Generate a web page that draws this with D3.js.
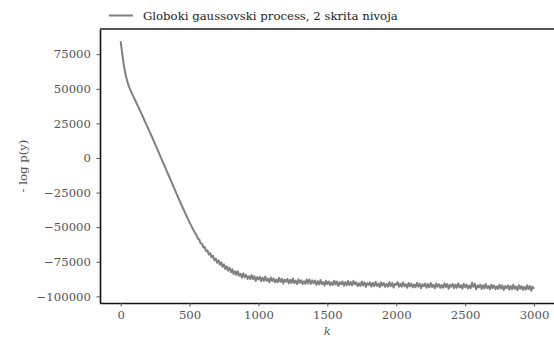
<!DOCTYPE html>
<html>
<head>
<meta charset="utf-8">
<script src="https://cdn.jsdelivr.net/npm/d3@7"></script>
<style>
  body { margin: 0; background: #fff; }
  svg { display: block; }
</style>
</head>
<body>
<svg id="chart" width="554" height="338"></svg>
<script>
// legend / labels
const seriesName = "Globoki gaussovski process, 2 skrita nivoja";
const yLabel = "- log p(y)";
const xLabel = "k";

const xTicks = [0, 500, 1000, 1500, 2000, 2500, 3000];
const yTicks = [-100000, -75000, -50000, -25000, 0, 25000, 50000, 75000];

// one value every kStep iterations
const kStep = 10;
const negLogP = [
  84500, 76500, 69000, 63000, 58500, 54800, 51700, 49200, 47000, 44900,
  42800, 40700, 38600, 36500, 34400, 32200, 30000, 27800, 25600, 23400,
  21200, 19000, 16800, 14600, 12300, 10000, 7700, 5400, 3100, 800,
  -1500, -3800, -6100, -8400, -10700, -13000, -15300, -17600, -19900, -22200,
  -24500, -26800, -29100, -31400, -33600, -35800, -38000, -40200, -42300, -44400,
  -46500, -48500, -50500, -52400, -54300,
  -55700, -58300, -58800, -61700, -61900, -64700, -64400, -67300, -66800, -69800,
  -68800, -71800, -70700, -73900, -72700, -75700, -74000, -77200, -75400, -78700,
  -76900, -80300, -78300, -81400, -79200, -82600,
  -80380, -83960, -81740, -84520, -81800, -85120, -83740, -86560, -83380, -86100,
  -84420, -87340, -85460, -87580, -84600, -87540, -85380, -88820, -86160, -87700,
  -85890, -89080, -86470, -88860, -85750, -88840, -87230, -89820, -86410, -88900,
  -87070, -89840, -87810, -89780, -86650, -89520, -87290, -90660, -87930, -89400,
  -87460, -90620, -87980, -90340, -87200, -90260, -88620, -91180, -87740, -90200,
  -88350, -91100, -89050, -91000, -87850, -90700, -87850, -91000, -88450, -90500,
  -88540, -91680, -89020, -91360, -88200, -91240, -89580, -92120, -88660, -91100,
  -89230, -91960, -89900, -91830, -88660, -91490, -89220, -92560, -89790, -91220,
  -89250, -92380, -89720, -92050, -88880, -91910, -89640, -91980, -88710, -91340,
  -89870, -92600, -90540, -92470, -89300, -92120, -89850, -93170, -90400, -91820,
  -89840, -92970, -90290, -92620, -89440, -92460, -90790, -93310, -89840, -92260,
  -90380, -93110, -91030, -92960, -89780, -92600, -90330, -93650, -90880, -91700,
  -89720, -93040, -90760, -93080, -89900, -92920, -91240, -93760, -90280, -92700,
  -90820, -93540, -91460, -93380, -90200, -93020, -90740, -94060, -91280, -92700,
  -90720, -93840, -91160, -93480, -90300, -93320, -91630, -94150, -90660, -93080,
  -91200, -93910, -91830, -93740, -90560, -93380, -91090, -94410, -91620, -93040,
  -91060, -94170, -91490, -93800, -90620, -93640, -91950, -94470, -90980, -93400,
  -91530, -94260, -92180, -94110, -90140, -93170, -90900, -94820, -92050, -93480,
  -91510, -94640, -91960, -94290, -91120, -94150, -92480, -95000, -91530, -93960,
  -92090, -94820, -92740, -94670, -91500, -94320, -92050, -95370, -92600, -94020,
  -92040, -95170, -92490, -94820, -91640, -94660, -92990, -95510, -92040, -94460,
  -92580, -95310, -93230, -95160, -91980, -94800, -92530, -95850, -93080, -94500
];

const svg = d3.select("#chart");
const plotLeft = 100, plotRight = 554.7, plotTop = 29, plotBottom = 303;
const font = "'DejaVu Serif', serif";
const fontSize = "11.7px";

const x = d3.scaleLinear().domain([-150, 3150]).range([plotLeft, plotRight]);
const y = d3.scaleLinear().domain([-104800, 93200]).range([plotBottom, plotTop]);

// y axis
const gy = svg.append("g")
  .attr("transform", `translate(${plotLeft},0)`)
  .call(d3.axisLeft(y).tickValues(yTicks).tickSize(3.5).tickSizeOuter(0).tickPadding(5.5)
    .tickFormat(d => d3.format("d")(d).replace("-", "\u2212")));

// x axis
const gx = svg.append("g")
  .attr("transform", `translate(0,${plotBottom})`)
  .call(d3.axisBottom(x).tickValues(xTicks).tickSize(3.5).tickSizeOuter(0).tickPadding(4)
    .tickFormat(d3.format("d")));

[gy, gx].forEach(g => {
  g.select(".domain").attr("stroke", "#111").attr("stroke-width", 1.6);
  g.selectAll(".tick line").attr("stroke", "#555").attr("stroke-width", 1);
  g.selectAll(".tick text")
    .attr("fill", "#555")
    .style("font-family", font)
    .style("font-size", fontSize);
});

// top border line
svg.append("line")
  .attr("x1", plotLeft).attr("x2", 554)
  .attr("y1", plotTop).attr("y2", plotTop)
  .attr("stroke", "#555").attr("stroke-width", 2.2);

// the series
const line = d3.line()
  .x((d, i) => x(i * kStep))
  .y(d => y(d));

svg.append("path")
  .datum(negLogP)
  .attr("d", line)
  .attr("fill", "none")
  .attr("stroke", "#808080")
  .attr("stroke-width", 2)
  .attr("stroke-linejoin", "round");

// legend above the axes
svg.append("line")
  .attr("x1", 109).attr("x2", 133)
  .attr("y1", 15.5).attr("y2", 15.5)
  .attr("stroke", "#808080").attr("stroke-width", 2);

svg.append("text")
  .attr("x", 143).attr("y", 19.5)
  .attr("fill", "#222")
  .style("font-family", font)
  .style("font-size", fontSize)
  .text(seriesName);

// axis labels
svg.append("text")
  .attr("transform", `translate(27,${(plotTop + plotBottom) / 2}) rotate(-90)`)
  .attr("text-anchor", "middle")
  .attr("fill", "#555")
  .style("font-family", font)
  .style("font-size", fontSize)
  .text(yLabel);

svg.append("text")
  .attr("x", (plotLeft + plotRight) / 2).attr("y", 335)
  .attr("text-anchor", "middle")
  .attr("fill", "#555")
  .style("font-family", font)
  .style("font-size", fontSize)
  .style("font-style", "italic")
  .text(xLabel);
</script>
</body>
</html>
